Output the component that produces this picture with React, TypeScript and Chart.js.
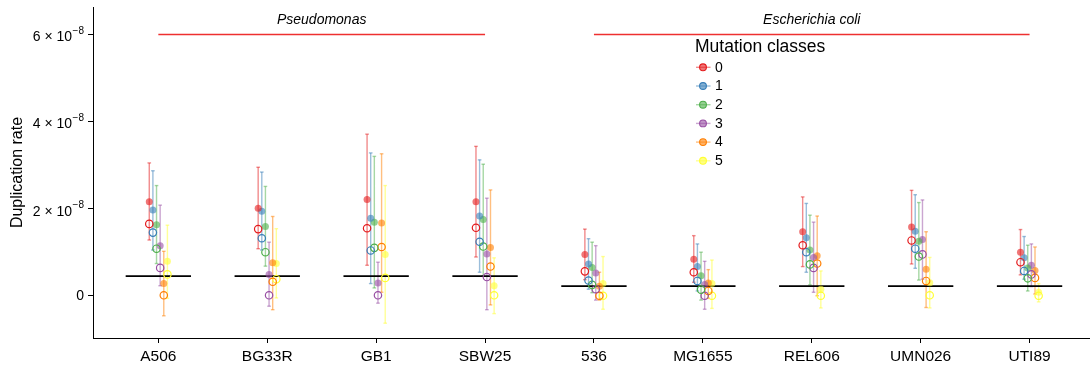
import React, { useEffect, useRef } from "react";
import { Chart, registerables } from "chart.js";

Chart.register(...registerables);

// ---------------- data (rates in units of 1e-8) ----------------
const strains = ["A506", "BG33R", "GB1", "SBW25", "536", "MG1655", "REL606", "UMN026", "UTI89"];
const mutationClasses = ["0", "1", "2", "3", "4", "5"];
const classColors = ["#E41A1C", "#377EB8", "#4DAF4A", "#984EA3", "#FF7F00", "#FFFF33"];
const UNIT = 1e-8;

// filled point (mean) per class, per strain
const meanRate = [
  [2.16, 2.01, 2.21, 2.16, 0.95, 0.84, 1.47, 1.58, 1.0],
  [1.97, 1.94, 1.78, 1.83, 0.73, 0.67, 1.33, 1.48, 0.87],
  [1.63, 1.59, 1.69, 1.75, 0.65, 0.46, 1.05, 1.25, 0.64],
  [1.15, 0.49, 0.29, 0.96, 0.52, 0.26, 0.88, 1.29, 0.7],
  [0.28, 0.76, 1.67, 1.11, 0.22, 0.29, 0.92, 0.61, 0.58],
  [0.79, 0.74, 0.95, 0.23, 0.28, 0.28, 0.15, 0.3, 0.08],
];
const lowerRate = [
  [1.28, 1.08, 0.7, 0.89, 0.37, 0.31, 0.67, 0.73, 0.48],
  [1.05, 1.05, 0.28, 0.54, 0.15, 0.11, 0.54, 0.63, 0.38],
  [0.74, 0.68, 0.18, 0.46, 0.07, -0.1, 0.25, 0.36, 0.11],
  [0.23, -0.24, -0.17, -0.32, -0.1, -0.31, 0.08, 0.38, 0.21],
  [-0.46, -0.32, 0.08, -0.21, -0.1, -0.06, 0.0, -0.27, 0.04],
  [-0.06, -0.05, -0.63, -0.41, -0.31, -0.29, -0.28, -0.28, -0.14],
];
const upperRate = [
  [3.05, 2.95, 3.71, 3.43, 1.53, 1.38, 2.27, 2.42, 1.52],
  [2.87, 2.84, 3.28, 3.12, 1.31, 1.19, 2.12, 2.32, 1.36],
  [2.53, 2.51, 3.2, 3.02, 1.23, 1.0, 1.85, 2.14, 1.16],
  [2.08, 1.23, 0.77, 2.24, 1.15, 0.79, 1.69, 2.2, 1.19],
  [1.02, 1.82, 3.26, 2.43, 0.54, 0.6, 1.83, 1.47, 1.12],
  [1.62, 1.54, 2.53, 0.87, 0.9, 0.82, 0.57, 0.88, 0.28],
];
// open circle estimate per class, per strain
const openRate = [
  [1.65, 1.53, 1.55, 1.56, 0.56, 0.54, 1.16, 1.27, 0.77],
  [1.45, 1.32, 1.04, 1.24, 0.35, 0.34, 1.0, 1.08, 0.57],
  [1.08, 1.0, 1.1, 1.13, 0.25, 0.14, 0.72, 0.9, 0.4],
  [0.64, 0.01, 0.01, 0.43, 0.15, 0.0, 0.64, 0.95, 0.49],
  [0.01, 0.32, 1.12, 0.67, 0.0, 0.11, 0.74, 0.34, 0.41],
  [0.49, 0.38, 0.41, 0.01, 0.0, 0.0, 0.0, 0.01, 0.0],
];
// black reference segment per strain
const referenceRate = [0.45, 0.45, 0.45, 0.45, 0.22, 0.22, 0.22, 0.22, 0.22];

// genus brackets
const genusNames = ["Pseudomonas", "Escherichia coli"];
const genusFirst = [0, 4];
const genusLast = [3, 8];
const genusLineRate = 6.0;
const genusLabelRate = 6.33;

const yTickRates = [0, 2, 4, 6];
const yMin = -0.97;
const yMax = 6.63;

// ---------------- helpers ----------------
const FONT = "'Liberation Sans', Arial, Helvetica, sans-serif";
const DODGE = 0.2;
const REF_HALF = 0.3;

function rgba(hex: string, a: number) {
  const n = parseInt(hex.slice(1), 16);
  return `rgba(${(n >> 16) & 255},${(n >> 8) & 255},${n & 255},${a})`;
}
const dodgeX = (i: number, k: number) =>
  i + (k - (mutationClasses.length - 1) / 2) * (DODGE / mutationClasses.length);

function buildDatasets() {
  const ds: any[] = [];
  // genus lines
  const genusPts: any[] = [];
  genusNames.forEach((_, g) => {
    genusPts.push({ x: genusFirst[g], y: genusLineRate * UNIT });
    genusPts.push({ x: genusLast[g], y: genusLineRate * UNIT });
    genusPts.push({ x: genusLast[g] + 0.5, y: null });
  });
  ds.push({
    label: "genus",
    data: genusPts,
    showLine: true,
    borderColor: "#EE3030",
    borderWidth: 1.5,
    pointRadius: 0,
    order: 10,
  });
  // error bars
  mutationClasses.forEach((_, k) => {
    const pts: any[] = [];
    strains.forEach((__, i) => {
      const x = dodgeX(i, k);
      pts.push({ x, y: lowerRate[k][i] * UNIT });
      pts.push({ x, y: upperRate[k][i] * UNIT });
      pts.push({ x, y: null });
    });
    ds.push({
      label: "err" + k,
      data: pts,
      showLine: true,
      borderColor: rgba(classColors[k], 0.5),
      borderWidth: 1.4,
      pointStyle: "line",
      pointRadius: 1.8,
      pointBorderWidth: 1.4,
      pointBorderColor: rgba(classColors[k], 0.5),
      order: 9,
    });
  });
  // reference segments
  const refPts: any[] = [];
  strains.forEach((_, i) => {
    refPts.push({ x: i - REF_HALF, y: referenceRate[i] * UNIT });
    refPts.push({ x: i + REF_HALF, y: referenceRate[i] * UNIT });
    refPts.push({ x: i + 0.5, y: null });
  });
  ds.push({
    label: "ref",
    data: refPts,
    showLine: true,
    borderColor: "#000",
    borderWidth: 1.8,
    pointRadius: 0,
    order: 8,
  });
  // filled points
  mutationClasses.forEach((_, k) => {
    ds.push({
      label: "mean" + k,
      data: strains.map((__, i) => ({ x: dodgeX(i, k), y: meanRate[k][i] * UNIT })),
      backgroundColor: rgba(classColors[k], 0.6),
      borderWidth: 0,
      pointRadius: 3.5,
      order: 7,
    });
  });
  // open circles
  mutationClasses.forEach((_, k) => {
    ds.push({
      label: "open" + k,
      data: strains.map((__, i) => ({ x: dodgeX(i, k), y: openRate[k][i] * UNIT })),
      backgroundColor: "rgba(0,0,0,0)",
      borderColor: classColors[k],
      borderWidth: 1.2,
      pointRadius: 3.7,
      order: 6,
    });
  });
  return ds;
}

const overlayPlugin = {
  id: "overlay",
  afterDraw(chart: any) {
    const ctx: CanvasRenderingContext2D = chart.ctx;
    const xs = chart.scales.x;
    const ys = chart.scales.y;
    ctx.save();
    ctx.fillStyle = "#000";
    // y tick labels with superscripts
    const right = ys.right - 5 - 4;
    yTickRates.forEach((v) => {
      const py = ys.getPixelForValue(v * UNIT);
      ctx.textBaseline = "middle";
      if (v === 0) {
        ctx.font = `14px ${FONT}`;
        ctx.textAlign = "right";
        ctx.fillText("0", right, py);
        return;
      }
      const base = `${v} \u00D7 10`;
      const sup = "\u22128";
      ctx.font = `10px ${FONT}`;
      const supW = ctx.measureText(sup).width;
      ctx.textAlign = "left";
      ctx.fillText(sup, right - supW, py - 3.5);
      ctx.font = `14px ${FONT}`;
      ctx.textAlign = "right";
      ctx.fillText(base, right - supW - 0.5, py + 3);
    });
    // genus labels
    ctx.font = `italic 14px ${FONT}`;
    ctx.textAlign = "center";
    ctx.textBaseline = "middle";
    genusNames.forEach((name, g) => {
      const cx = (xs.getPixelForValue(genusFirst[g]) + xs.getPixelForValue(genusLast[g])) / 2;
      ctx.fillText(name, cx, ys.getPixelForValue(genusLabelRate * UNIT));
    });
    // legend
    const lx = 695;
    ctx.font = `17.5px ${FONT}`;
    ctx.textAlign = "left";
    ctx.fillText("Mutation classes", lx, 47);
    ctx.font = `14px ${FONT}`;
    mutationClasses.forEach((c, k) => {
      const cy = 67.3 + k * 18.7;
      ctx.strokeStyle = rgba(classColors[k], 0.5);
      ctx.lineWidth = 1.4;
      ctx.beginPath();
      ctx.moveTo(696, cy);
      ctx.lineTo(710.5, cy);
      ctx.stroke();
      ctx.fillStyle = rgba(classColors[k], 0.6);
      ctx.beginPath();
      ctx.arc(703, cy, 3.4, 0, Math.PI * 2);
      ctx.fill();
      ctx.strokeStyle = classColors[k];
      ctx.lineWidth = 1.1;
      ctx.beginPath();
      ctx.arc(703, cy, 3.4, 0, Math.PI * 2);
      ctx.stroke();
      ctx.fillStyle = "#000";
      ctx.fillText(c, 715, cy + 0.5);
    });
    ctx.restore();
  },
};

export default function App() {
  const ref = useRef<HTMLCanvasElement>(null);
  useEffect(() => {
    Chart.defaults.font.family = FONT;
    const chart = new Chart(ref.current as HTMLCanvasElement, {
      type: "scatter",
      data: { datasets: buildDatasets() },
      options: {
        animation: false,
        responsive: true,
        maintainAspectRatio: false,
        layout: { autoPadding: false, padding: { top: 7, right: 0, left: 0, bottom: 0 } },
        plugins: { legend: { display: false }, tooltip: { enabled: false } },
        scales: {
          x: {
            type: "linear",
            min: -0.6,
            max: 8.555,
            afterBuildTicks: (s: any) => {
              s.ticks = strains.map((_, i) => ({ value: i }));
            },
            afterFit: (s: any) => {
              s.height = 30;
              s.paddingLeft = 0;
              s.paddingRight = 0;
            },
            ticks: {
              autoSkip: false,
              maxRotation: 0,
              padding: 4,
              color: "#000",
              font: { size: 15.5, family: FONT },
              callback: (_v: any, idx: number) => strains[idx],
            },
            grid: { drawOnChartArea: false, drawTicks: true, tickLength: 5, color: "#000", lineWidth: 1 },
            border: { display: true, color: "#000", width: 1 },
          },
          y: {
            type: "linear",
            min: yMin * UNIT,
            max: yMax * UNIT,
            afterBuildTicks: (s: any) => {
              s.ticks = yTickRates.map((v) => ({ value: v * UNIT }));
            },
            afterFit: (s: any) => {
              s.width = 93;
              s.paddingTop = 0;
              s.paddingBottom = 0;
            },
            ticks: { display: false },
            grid: { drawOnChartArea: false, drawTicks: true, tickLength: 5, color: "#000", lineWidth: 1 },
            border: { display: true, color: "#000", width: 1 },
            title: {
              display: true,
              text: "Duplication rate",
              color: "#000",
              font: { size: 16, family: FONT },
              padding: { top: 8, bottom: 0 },
            },
          },
        },
      },
      plugins: [overlayPlugin],
    } as any);
    return () => chart.destroy();
  }, []);
  return (
    <div style={{ position: "fixed", left: 0, top: 0, width: 1090, height: 368, background: "#fff" }}>
      <canvas ref={ref} />
    </div>
  );
}
